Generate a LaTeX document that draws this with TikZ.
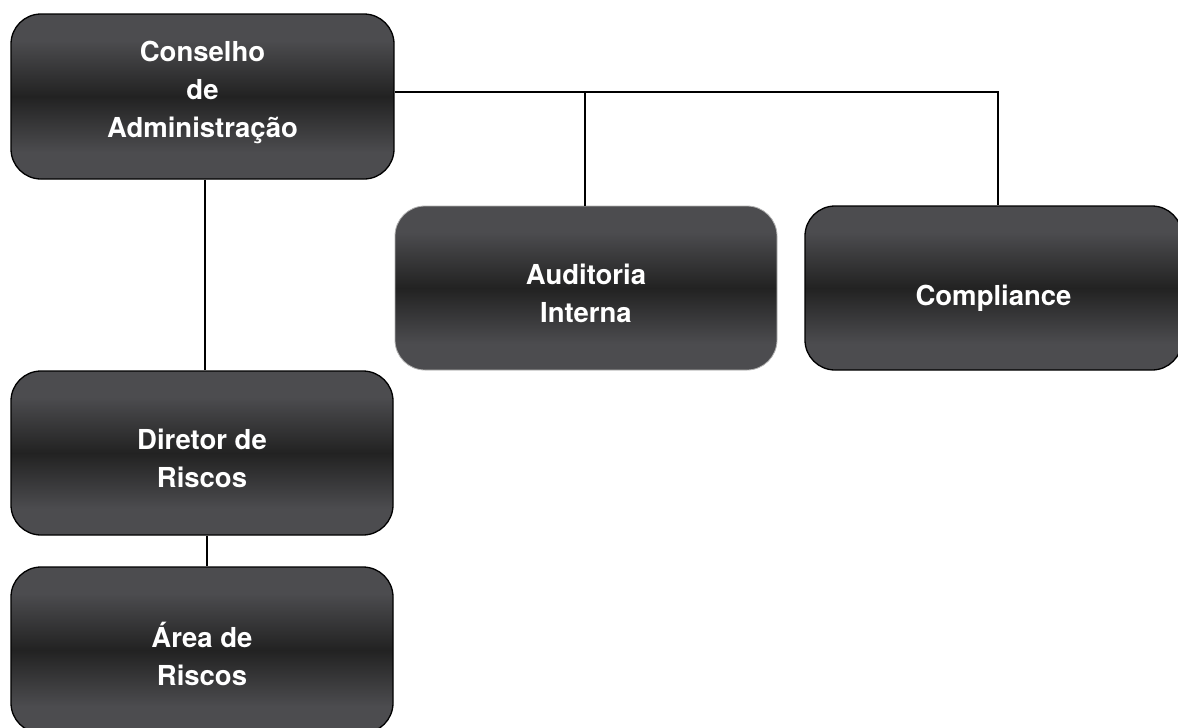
\documentclass[tikz,border=0pt]{standalone}
\usepackage{fontspec}
\setmainfont{TeX Gyre Heros}
\definecolor{boxlight}{HTML}{4C4C4F}
\definecolor{boxdark}{HTML}{222222}
\pgfdeclareverticalshading{boxshade}{100bp}{color(0bp)=(boxlight); color(25bp)=(boxlight); color(33bp)=(boxlight); color(50bp)=(boxdark); color(67bp)=(boxlight); color(75bp)=(boxlight); color(100bp)=(boxlight)}
\begin{document}
\begin{tikzpicture}[x=1pt,y=-1pt,
  orgbox/.style={rectangle, rounded corners=30pt, shading=boxshade, draw=black, line width=1.3pt,
    text=white, font=\bfseries\fontsize{27.5}{38}\selectfont, align=center, inner sep=0pt},
  boxtext/.style={text=white, font=\bfseries\fontsize{27.5}{38}\selectfont, align=center, inner sep=0pt},
  conn/.style={draw=black, line width=1.3pt}]
\useasboundingbox (0,0) rectangle (1178,728);
\node[orgbox, minimum width=383pt, minimum height=165pt] (cons) at (202.5,96.5) {};
\node[boxtext] (consT) at (202.5,92) {Conselho\\de\\Administração};
\node[orgbox, draw=gray!60, line width=0.8pt, minimum width=382pt, minimum height=164pt] (aud) at (586,288) {};
\node[boxtext] (audT) at (586,293) {Auditoria\\Interna};
\node[orgbox, minimum width=377pt, minimum height=164pt] (comp) at (993.5,288) {};
\node[boxtext] (compT) at (993.5,298) {Compliance};
\node[orgbox, minimum width=382pt, minimum height=164pt] (dir) at (202,453) {};
\node[boxtext] (dirT) at (202,458) {Diretor de\\Riscos};
\node[orgbox, minimum width=382pt, minimum height=166pt] (area) at (202,650) {};
\node[boxtext] (areaT) at (202,654) {Área de\\Riscos};
\coordinate (j1) at (585,92);
\coordinate (j2) at (998,92);
\coordinate (v1) at (205,0);
\coordinate (v2) at (207,0);
\draw[conn] (cons.east |- j1) -- (j1) -- (j2) -- (comp.north -| j2);
\draw[conn] (j1) -- (aud.north -| j1);
\draw[conn] (cons.south -| v1) -- (dir.north -| v1);
\draw[conn] (dir.south -| v2) -- (area.north -| v2);
\end{tikzpicture}
\end{document}
